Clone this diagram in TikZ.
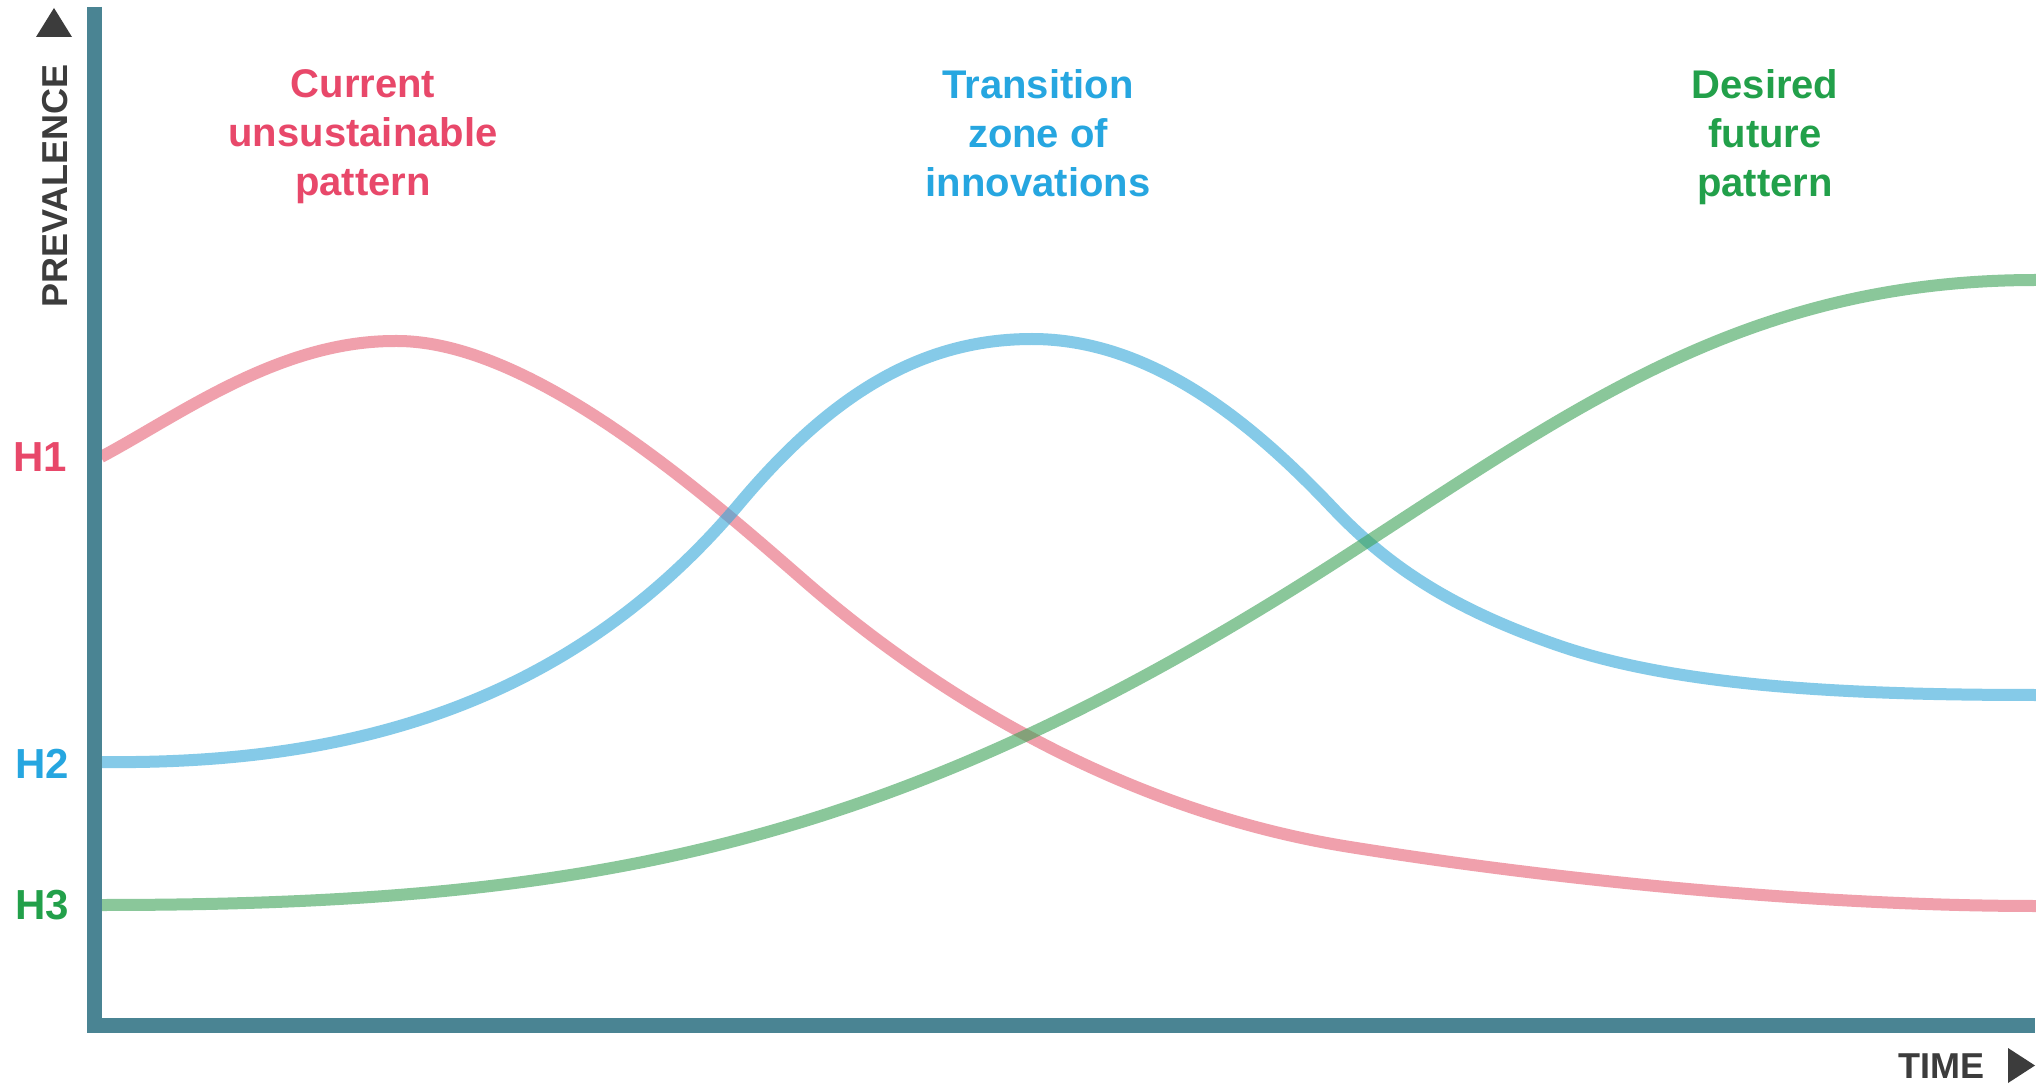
\documentclass[tikz,border=0pt]{standalone}
\usepackage{fontspec}
\setmainfont{Liberation Sans}
\definecolor{axiscol}{RGB}{74,132,147}
\definecolor{darktxt}{RGB}{60,60,60}
\definecolor{redtxt}{RGB}{232,72,106}
\definecolor{bluetxt}{RGB}{38,166,224}
\definecolor{greentxt}{RGB}{34,160,74}
\definecolor{redline}{RGB}{230,97,117}
\definecolor{blueline}{RGB}{52,168,217}
\definecolor{greenline}{RGB}{60,162,87}
\tikzset{
  curve/.style={line width=6pt, draw opacity=0.6, line cap=butt, line join=round},
  title/.style={font=\fontsize{20}{24.5}\selectfont\bfseries, align=center, anchor=north, inner sep=0pt},
  hlabel/.style={font=\fontsize{21}{25}\selectfont\bfseries, inner sep=0pt},
  axlabel/.style={font=\fontsize{18}{22}\selectfont\bfseries, text=darktxt, inner sep=0pt},
  arrowhead/.style={fill=darktxt, draw=none}
}
\begin{document}
\begin{tikzpicture}[x=0.5pt, y=-0.5pt]
\useasboundingbox (0,0) rectangle (2036,1085);
\fill[white] (0,0) rectangle (2036,1085);

% curve anchor points
\coordinate (r0) at (101,457);
\coordinate (r1) at (397,341);
\coordinate (r2) at (800,577);
\coordinate (r3) at (1350,847);
\coordinate (r4) at (2036,906);
\coordinate (b0) at (101,762);
\coordinate (b1) at (740,503);
\coordinate (b2) at (1032,339);
\coordinate (b3) at (1330,505);
\coordinate (b4) at (1560,646);
\coordinate (b5) at (2036,695);
\coordinate (g0) at (101,905);
\coordinate (g1) at (1350,553);
\coordinate (g2) at (2036,280);

% curves
\draw[curve, redline] (r0) .. controls (180,415) and (280,340) .. (r1)
  .. controls (530,341) and (700,490) .. (r2)
  .. controls (940,700) and (1130,812) .. (r3)
  .. controls (1600,887) and (1850,906) .. (r4);
\draw[curve, blueline] (b0) .. controls (350,765) and (570,705) .. (b1)
  .. controls (830,396) and (920,339) .. (b2)
  .. controls (1150,339) and (1250,421) .. (b3)
  .. controls (1380,558) and (1440,605) .. (b4)
  .. controls (1680,687) and (1850,695) .. (b5);
\draw[curve, greenline] (g0) .. controls (600,905) and (900,845) .. (g1)
  .. controls (1580,404) and (1750,280) .. (g2);

% axes
\coordinate (ytop) at (94,7);
\coordinate (origin) at (94,1025);
\coordinate (xend) at (2035,1025);
\draw[axiscol, line width=7.5pt, line cap=butt, line join=miter] (ytop) -- (origin) -- (xend);

% arrowheads
\fill[arrowhead] (36,37) -- (72,37) -- (54,8) -- cycle;
\fill[arrowhead] (2008,1048) -- (2008,1083) -- (2035,1065.5) -- cycle;

% axis labels
\node[axlabel, rotate=90] (prev) at (55,186) {PREVALENCE};
\node[axlabel] (time) at (1941,1066) {TIME};

% H labels
\node[hlabel, text=redtxt] (h1) at (40,457) {H1};
\node[hlabel, text=bluetxt] (h2) at (42,764) {H2};
\node[hlabel, text=greentxt] (h3) at (42,905) {H3};

% titles
\node[title, text=redtxt] (t1) at (363,69) {Current\\unsustainable\\pattern};
\node[title, text=bluetxt] (t2) at (1038,69) {Transition\\zone of\\innovations};
\node[title, text=greentxt] (t3) at (1765,69) {Desired\\future\\pattern};
\end{tikzpicture}
\end{document}
